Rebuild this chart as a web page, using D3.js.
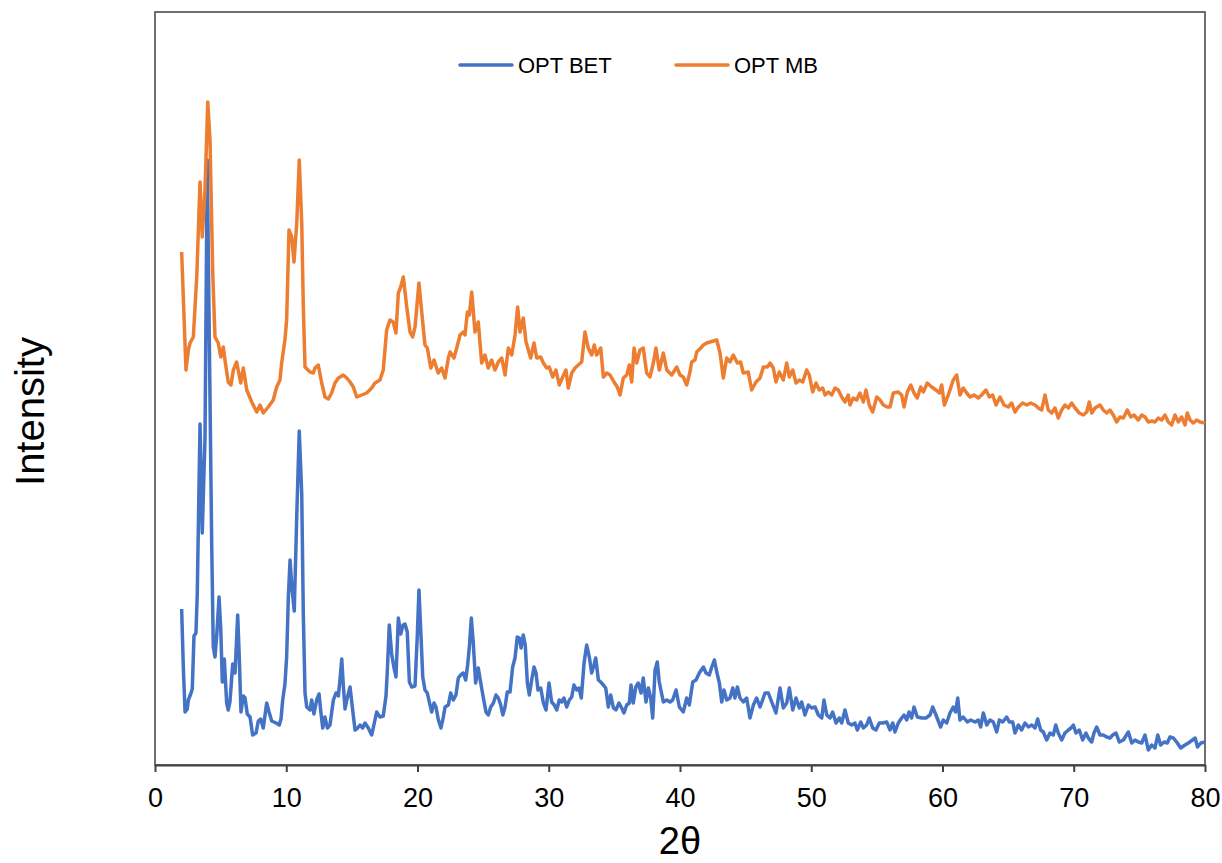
<!DOCTYPE html>
<html>
<head>
<meta charset="utf-8">
<script src="https://cdn.jsdelivr.net/npm/d3@7"></script>
<style>
  body { margin: 0; background: #fff; }
  svg { display: block; font-family: "Liberation Sans", Arial, sans-serif; }
</style>
</head>
<body>
<svg id="chart" width="1222" height="863"></svg>
<script>
const seriesNames = ["OPT BET", "OPT MB"];
const seriesColors = ["#4472C4", "#ED7D31"];
const xTicks = [0, 10, 20, 30, 40, 50, 60, 70, 80];

// OPT BET (blue, lower trace)
const betTheta = [2.03,2.16,2.29,2.46,2.54,2.72,2.84,2.97,3.12,3.22,3.43,3.60,3.81,3.98,4.32,4.44,4.57,4.70,4.88,5.01,
  5.13,5.28,5.46,5.58,5.71,5.92,6.10,6.30,6.42,6.55,6.73,6.86,7.03,7.24,7.44,7.70,7.87,8.05,8.25,8.51,
  8.69,8.89,9.22,9.47,9.60,9.73,9.90,10.03,10.16,10.29,10.42,10.61,10.80,10.99,11.18,11.30,11.43,11.56,11.81,11.94,
  12.11,12.32,12.50,12.62,12.78,12.95,13.13,13.33,13.59,13.79,13.97,14.10,14.23,14.35,14.48,14.61,14.86,15.06,15.24,15.44,
  15.62,15.82,16.00,16.25,16.51,16.71,16.89,17.14,17.39,17.60,17.70,17.85,18.03,18.21,18.36,18.54,18.72,18.90,19.05,19.22,
  19.38,19.56,19.81,19.98,20.11,20.27,20.40,20.57,20.75,20.90,21.08,21.26,21.41,21.59,21.79,21.97,22.10,22.35,22.53,22.73,
  22.93,23.11,23.29,23.49,23.67,23.82,23.95,24.10,24.25,24.43,24.63,24.82,25.02,25.22,25.39,25.58,25.78,25.98,26.16,26.34,
  26.50,26.67,26.84,27.05,27.25,27.43,27.60,27.76,27.89,28.06,28.21,28.37,28.52,28.70,28.88,29.03,29.18,29.39,29.59,29.79,
  30.02,30.22,30.42,30.61,30.80,30.98,31.16,31.37,31.57,31.75,31.92,32.13,32.30,32.48,32.69,32.89,33.09,33.27,33.45,33.58,
  33.78,33.96,34.16,34.34,34.54,34.72,34.93,35.12,35.35,35.56,35.73,35.94,36.14,36.27,36.44,36.63,36.82,37.03,37.20,37.41,
  37.59,37.77,37.92,38.10,38.27,38.42,38.73,38.99,39.24,39.44,39.70,39.95,40.25,40.51,40.71,40.97,41.22,41.47,41.78,41.98,
  42.23,42.42,42.62,42.80,43.00,43.18,43.35,43.56,43.81,44.02,44.19,44.37,44.57,44.82,45.08,45.33,45.59,45.84,46.10,46.48,
  46.73,46.99,47.31,47.62,47.87,48.13,48.33,48.59,48.84,49.09,49.27,49.52,49.78,50.03,50.29,50.54,50.80,50.97,51.18,51.43,
  51.63,51.89,52.14,52.32,52.57,52.82,53.08,53.33,53.51,53.77,53.97,54.22,54.42,54.68,54.93,55.18,55.44,55.75,56.00,56.21,
  56.38,56.63,56.89,57.07,57.27,57.45,57.65,57.83,58.08,58.42,58.74,59.05,59.25,59.50,59.86,60.06,60.32,60.57,60.82,61.00,
  61.16,61.33,61.58,61.89,62.15,62.48,62.73,62.91,63.11,63.37,63.62,63.87,64.13,64.33,64.59,64.89,65.09,65.35,65.52,65.78,
  66.03,66.29,66.54,66.80,67.05,67.25,67.48,67.68,67.94,68.19,68.44,68.63,68.82,69.08,69.33,69.59,69.79,69.97,70.17,70.42,
  70.68,70.93,71.11,71.37,71.54,71.75,72.00,72.25,72.51,72.76,72.97,73.22,73.47,73.78,74.16,74.42,74.67,74.92,75.18,75.43,
  75.68,75.94,76.19,76.40,76.62,76.88,77.13,77.33,77.59,77.84,78.15,78.48,78.73,79.05,79.25,79.43,79.68,80.00];
const betIntensity = [156,97,53,56,65,71,76,129,132,171,341,232,327,605,221,118,108,129,168,136,
  83,106,62,55,63,101,92,150,108,53,69,67,51,48,30,32,44,46,37,62,
  53,44,42,40,46,65,81,108,168,205,179,154,249,334,271,150,72,58,55,65,
  51,65,71,55,37,48,37,40,65,72,69,86,106,79,56,65,78,55,35,37,
  40,37,42,37,30,42,53,48,49,69,94,140,111,97,88,147,131,140,141,133,
  83,78,79,128,175,128,88,75,72,63,53,62,58,45,37,48,58,60,72,65,
  70,87,90,92,85,100,118,147,122,82,97,82,67,53,50,58,62,70,67,60,
  50,58,73,73,98,107,128,127,117,130,120,82,70,85,98,92,75,77,62,55,
  82,63,60,55,65,63,67,58,65,68,80,75,77,67,102,120,108,92,100,107,
  85,83,80,77,58,70,57,55,62,57,52,60,62,80,62,78,82,72,87,63,
  77,67,47,95,103,83,63,65,63,65,75,58,53,67,60,83,85,92,98,92,
  90,98,105,93,82,63,75,65,67,77,67,78,67,63,67,47,60,67,58,72,
  72,63,52,77,57,62,77,55,67,57,63,50,60,57,58,50,47,65,50,47,
  53,42,47,42,55,42,40,42,35,43,37,40,47,37,35,42,42,43,35,42,
  33,42,47,50,45,53,47,58,48,47,47,50,58,50,38,45,42,52,58,53,
  67,45,48,43,45,43,45,38,52,40,45,43,33,45,43,48,43,43,32,40,
  35,42,38,40,37,46,35,33,25,32,30,40,32,25,32,35,37,40,32,35,
  25,32,27,23,32,38,30,30,28,27,30,32,23,25,33,22,25,23,22,30,
  15,20,17,30,20,23,22,28,27,23,17,20,22,25,27,18,22,23];

// OPT MB (orange, upper trace)
const mbTheta = [2.03,2.36,2.54,2.67,2.92,3.05,3.18,3.43,3.60,3.81,4.02,4.19,4.40,4.57,4.82,5.01,5.20,5.33,5.58,5.79,
  5.97,6.22,6.53,6.73,6.99,7.37,7.75,8.00,8.25,8.63,9.01,9.27,9.52,9.65,9.90,10.03,10.21,10.42,10.59,10.80,
  10.99,11.18,11.30,11.43,11.81,12.06,12.19,12.44,12.70,12.95,13.20,13.46,13.71,13.97,14.35,14.61,14.86,15.11,15.37,15.75,
  16.13,16.51,16.76,17.14,17.39,17.65,17.90,18.15,18.36,18.54,18.72,18.92,19.18,19.43,19.63,19.81,20.11,20.32,20.57,20.75,
  21.01,21.26,21.58,21.84,22.10,22.35,22.48,22.78,22.99,23.24,23.49,23.62,23.80,23.95,24.13,24.38,24.63,24.89,25.14,25.39,
  25.65,25.90,26.16,26.42,26.67,26.92,27.18,27.43,27.63,27.81,28.06,28.27,28.62,28.88,29.08,29.39,29.59,29.84,30.04,30.30,
  30.55,30.80,31.06,31.31,31.49,31.75,32.00,32.25,32.51,32.76,33.01,33.27,33.47,33.65,33.96,34.16,34.42,34.67,34.97,35.22,
  35.43,35.68,35.94,36.14,36.32,36.50,36.70,36.95,37.20,37.46,37.71,37.97,38.17,38.42,38.73,38.99,39.37,39.75,40.00,40.25,
  40.51,40.76,40.89,41.14,41.27,41.58,41.78,42.03,42.29,42.54,42.80,43.05,43.30,43.56,43.81,44.06,44.37,44.62,44.82,45.20,
  45.46,45.79,46.10,46.35,46.65,46.86,47.11,47.31,47.57,47.87,48.13,48.33,48.59,48.84,49.09,49.35,49.65,49.85,50.11,50.36,
  50.61,50.87,51.05,51.30,51.56,51.81,52.06,52.32,52.57,52.82,52.95,53.20,53.46,53.71,53.97,54.17,54.42,54.68,54.99,55.24,
  55.49,55.79,56.00,56.25,56.63,56.89,57.07,57.32,57.58,57.83,58.08,58.34,58.54,58.84,59.18,59.50,59.76,59.94,60.14,60.44,
  60.82,61.08,61.33,61.58,61.84,62.10,62.40,62.73,62.98,63.31,63.57,63.82,64.08,64.38,64.69,65.01,65.27,65.52,65.78,66.11,
  66.42,66.72,67.05,67.30,67.56,67.81,68.06,68.32,68.57,68.82,69.08,69.33,69.59,69.84,70.10,70.42,70.73,70.99,71.18,71.37,
  71.62,72.00,72.25,72.51,72.76,73.01,73.27,73.52,73.78,74.08,74.34,74.59,74.92,75.18,75.43,75.68,75.94,76.19,76.44,76.70,
  76.95,77.20,77.46,77.71,77.97,78.22,78.48,78.65,78.86,79.11,79.37,79.62,80.00];
const mbIntensity = [513,395,415,422,428,458,488,583,528,575,663,625,492,428,422,408,418,405,383,380,
  395,403,382,397,375,363,353,360,352,358,365,378,385,402,425,445,535,528,503,542,
  605,542,458,398,393,392,397,400,382,368,366,372,382,387,390,387,383,378,368,370,
  372,377,382,385,395,435,445,443,432,472,478,488,458,433,428,438,482,453,420,417,
  397,405,392,397,387,407,413,407,417,430,433,430,453,450,473,433,443,402,410,397,
  405,395,403,407,390,417,410,430,458,433,447,423,407,422,407,408,402,397,398,388,
  395,380,388,395,377,392,397,400,403,433,417,410,420,410,417,388,392,390,383,378,
  370,387,390,400,383,417,402,415,417,392,388,402,417,395,412,395,390,398,390,388,
  380,393,403,405,413,417,420,422,423,424,425,412,387,407,403,410,402,403,392,393,
  375,383,387,398,398,402,397,383,393,385,402,388,395,382,385,383,395,390,373,382,
  375,377,370,373,370,377,375,368,363,370,360,367,365,372,363,375,360,353,368,365,
  360,358,358,372,373,370,358,373,380,372,367,378,373,382,378,375,372,380,360,370,
  385,390,370,377,372,368,370,367,370,375,368,370,360,368,360,358,362,353,358,362,
  360,362,360,357,355,370,355,352,357,347,355,360,357,362,357,352,350,353,363,352,
  357,360,355,352,355,350,343,348,347,355,348,350,345,350,348,343,344,343,347,345,
  350,343,340,350,343,348,340,352,345,342,345,343,342];

const width = 1222, height = 863;
const plot = { left: 155, right: 1205, top: 12, bottom: 765 };

const svg = d3.select("#chart");

const x = d3.scaleLinear().domain([0, 80]).range([plot.left, plot.right]);
const y = d3.scaleLinear().domain([0, 753]).range([plot.bottom, plot.top]);

// plot frame
svg.append("rect")
  .attr("x", plot.left)
  .attr("y", plot.top)
  .attr("width", plot.right - plot.left)
  .attr("height", plot.bottom - plot.top)
  .attr("fill", "none")
  .attr("stroke", "#404040")
  .attr("stroke-width", 1.5);

// bottom axis
const xAxis = svg.append("g")
  .attr("transform", `translate(0,${plot.bottom})`)
  .call(d3.axisBottom(x).tickValues(xTicks).tickSize(7).tickSizeOuter(0).tickPadding(16));
xAxis.select(".domain").attr("stroke", "#404040").attr("stroke-width", 2);
xAxis.selectAll(".tick line").attr("stroke", "#404040").attr("stroke-width", 2);
xAxis.selectAll(".tick text")
  .attr("fill", "#000")
  .style("font-size", "27px")
  .style("font-family", "'Liberation Sans', Arial, sans-serif");

// axis titles
svg.append("text")
  .attr("x", x(40))
  .attr("y", 854)
  .attr("text-anchor", "middle")
  .style("font-size", "38px")
  .text("2θ");

svg.append("text")
  .attr("transform", `translate(44,${(plot.top + plot.bottom) / 2 + 23}) rotate(-90)`)
  .attr("text-anchor", "middle")
  .style("font-size", "40px")
  .text("Intensity");

// series
const series = [
  { name: seriesNames[0], color: seriesColors[0], pts: betTheta.map((t, i) => [t, betIntensity[i]]) },
  { name: seriesNames[1], color: seriesColors[1], pts: mbTheta.map((t, i) => [t, mbIntensity[i]]) },
];

const line = d3.line()
  .x((d) => x(d[0]))
  .y((d) => y(d[1]));

svg.selectAll(".series")
  .data(series)
  .join("path")
  .attr("class", "series")
  .attr("d", (d) => line(d.pts))
  .attr("fill", "none")
  .attr("stroke", (d) => d.color)
  .attr("stroke-width", 3.5)
  .attr("stroke-linejoin", "round");

// legend
const legendX = [460, 676];
const legend = svg.selectAll(".legend")
  .data(series)
  .join("g")
  .attr("class", "legend")
  .attr("transform", (d, i) => `translate(${legendX[i]},65)`);

legend.append("line")
  .attr("x1", 0)
  .attr("x2", 52)
  .attr("stroke", (d) => d.color)
  .attr("stroke-width", 3.5)
  .attr("stroke-linecap", "round");

legend.append("text")
  .attr("x", 58)
  .attr("dy", "0.35em")
  .style("font-size", "22px")
  .attr("fill", "#000")
  .text((d) => d.name);
</script>
</body>
</html>
